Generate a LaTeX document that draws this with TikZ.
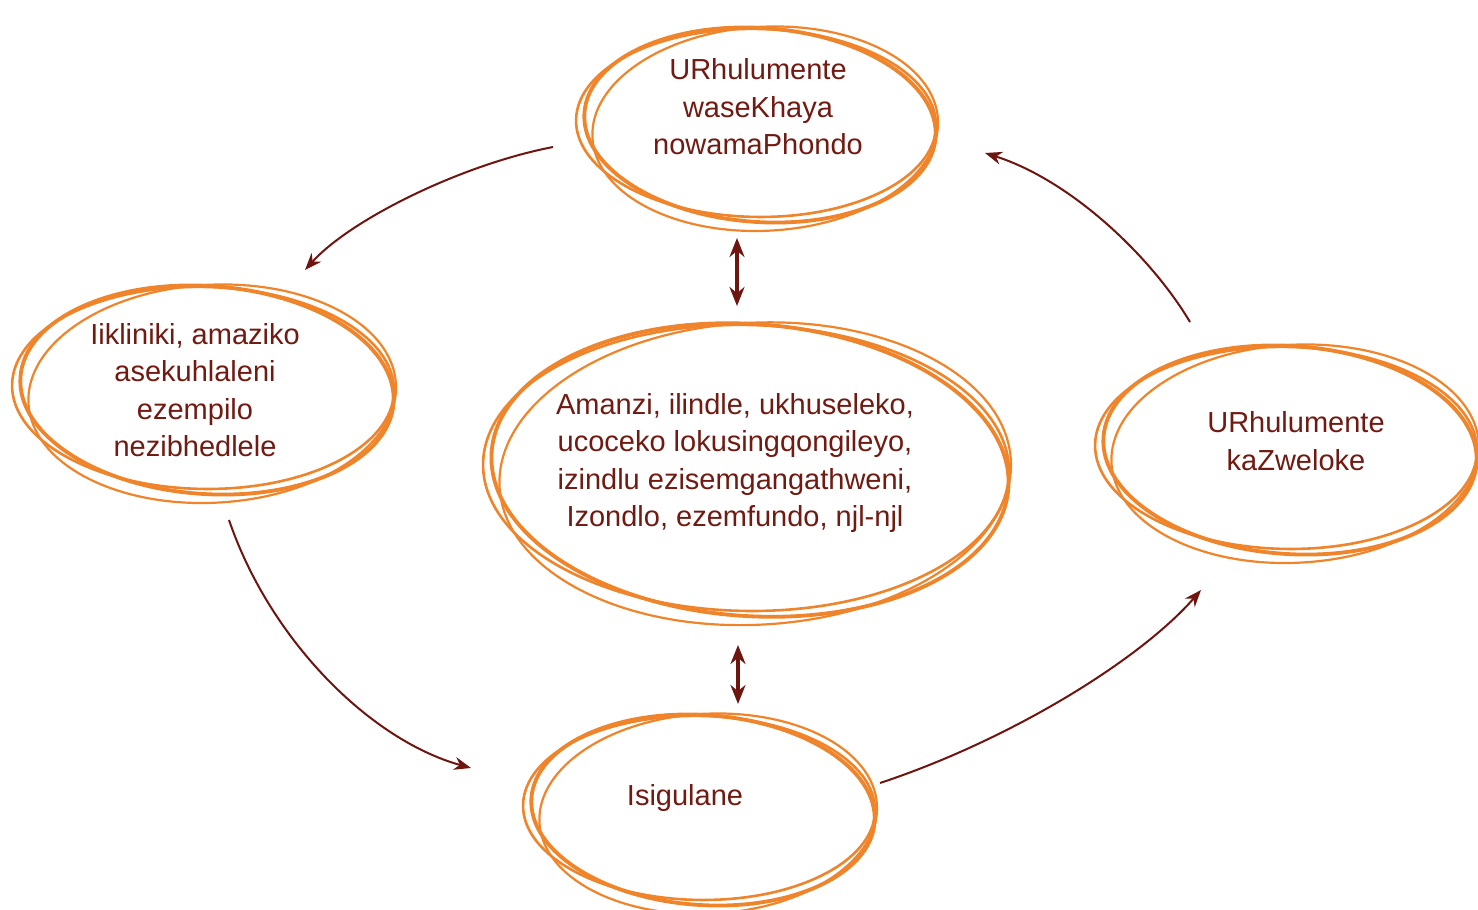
\documentclass[tikz,border=0pt]{standalone}
\usepackage{fontspec}
\setmainfont{Liberation Sans}
\usetikzlibrary{arrows.meta,shapes.geometric}
\definecolor{txt}{HTML}{701A12}
\definecolor{arr}{HTML}{6E1510}
\definecolor{ora}{HTML}{F0842A}
\tikzset{
  lbl/.style={text=txt, align=center, font=\fontsize{29}{37.5}\selectfont, inner sep=0pt},
  sk/.style={draw=ora, line width=3.8pt, line cap=round},
  skthin/.style={draw=ora, line width=2.2pt, line cap=round},
  conn/.style={draw=arr, line width=2pt, -{Stealth[length=17pt,width=13pt]}},
  dbl/.style={draw=arr, line width=3.2pt, {Stealth[length=19pt,width=15pt]}-{Stealth[length=19pt,width=15pt]}},
}
\newcommand{\sketchell}[4]{% cx, cy, rx, ry
  \draw[sk, rotate around={-4:(#1,#2)}] (#1,#2) ellipse [x radius=#3pt, y radius=#4pt];
  \draw[skthin, rotate around={3:(#1,#2)}] (#1+5,#2+4) ellipse [x radius=#3pt-3pt, y radius=#4pt+5pt];
  \draw[sk, line width=2.6pt, rotate around={-1:(#1,#2)}] (#1-4,#2-2) ellipse [x radius=#3pt+4pt, y radius=#4pt-3pt];
}
\begin{document}
\begin{tikzpicture}[x=1pt,y=-1pt]
\useasboundingbox (0,0) rectangle (1478,910);
% sketched ellipses
\sketchell{760}{125}{176}{97}
\sketchell{207}{390}{187}{104}
\sketchell{750}{470}{259}{146}
\sketchell{1290}{450}{187}{104}
\sketchell{703}{810}{172}{95}
% texts
\node[lbl] (top) at (758,107) {URhulumente\\waseKhaya\\nowamaPhondo};
\node[lbl] (left) at (195,390) {Iikliniki, amaziko\\asekuhlaleni\\ezempilo\\nezibhedlele};
\node[lbl] (mid) at (735,463) {Amanzi, ilindle, ukhuseleko,\\ucoceko lokusingqongileyo,\\izindlu ezisemgangathweni,\\Izondlo, ezemfundo, njl-njl};
\node[lbl] (right) at (1296,441) {URhulumente\\kaZweloke};
\node[lbl] (bot) at (685,798) {Isigulane};
% connector ends
\coordinate (tl1) at (553,147);
\coordinate (tl2) at (305,270);
\coordinate (rt1) at (1190,322);
\coordinate (rt2) at (985,153);
\coordinate (lb1) at (229,520);
\coordinate (lb2) at (471,768);
\coordinate (br1) at (880,783);
\coordinate (br2) at (1201,590);
\coordinate (tm1) at (737,238);
\coordinate (tm2) at (737,306);
\coordinate (mb1) at (738,645);
\coordinate (mb2) at (738,704);
% connectors
\draw[conn] (tl1) .. controls (460,165) and (350,220) .. (tl2);
\draw[conn] (rt1) .. controls (1150,255) and (1070,180) .. (rt2);
\draw[conn] (lb1) .. controls (270,640) and (370,740) .. (lb2);
\draw[conn] (br1) .. controls (1010,740) and (1140,660) .. (br2);
\draw[dbl] (tm1) -- (tm2);
\draw[dbl] (mb1) -- (mb2);
\end{tikzpicture}
\end{document}
